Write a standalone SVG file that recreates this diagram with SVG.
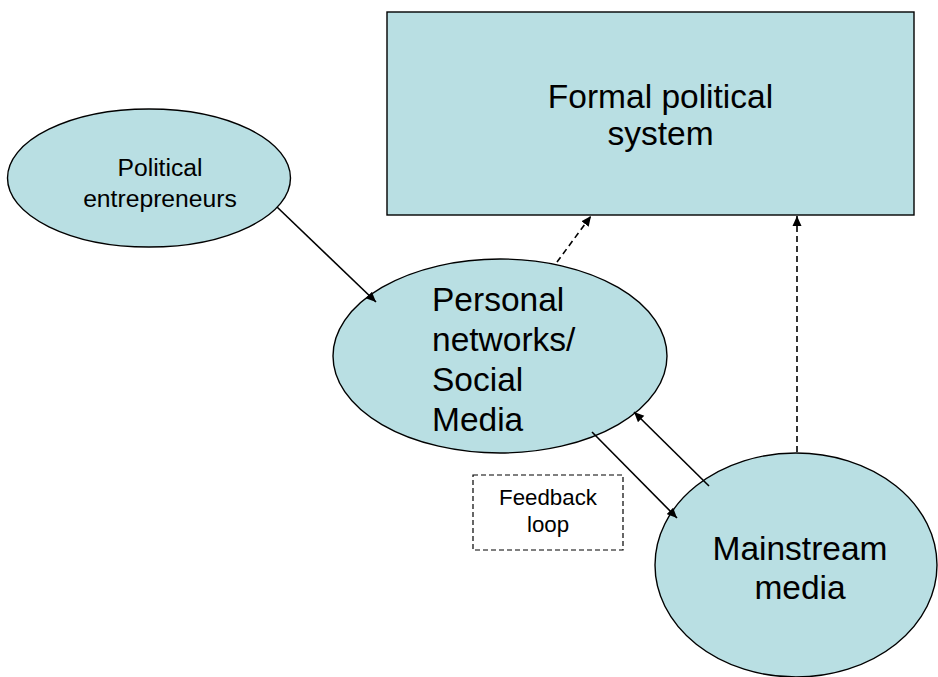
<svg xmlns="http://www.w3.org/2000/svg" width="938" height="677" viewBox="0 0 938 677">
  <style>
    .shape { fill: #b9dfe3; stroke: #000; stroke-width: 1.4; }
    .lbl { font-family: "Liberation Sans", Arial, sans-serif; fill: #000; }
    .solid { stroke: #000; stroke-width: 1.6; fill: none; }
    .dash { stroke: #000; stroke-width: 1.6; fill: none; stroke-dasharray: 6 4; }
  </style>
  <defs>
    <marker id="arr" viewBox="0 0 10 10" refX="10" refY="5" markerWidth="10" markerHeight="10" markerUnits="userSpaceOnUse" orient="auto">
      <path d="M0,0.5 L10,5 L0,9.5 Z" fill="#000"/>
    </marker>
  </defs>
  <rect width="938" height="677" fill="#fff"/>

  <g id="formal-political-system">
    <rect class="shape" x="387" y="12" width="527" height="203"/>
    <text class="lbl" font-size="33.5" text-anchor="middle" x="660.5" y="108">Formal political</text>
    <text class="lbl" font-size="33.5" text-anchor="middle" x="660.5" y="145">system</text>
  </g>

  <g id="political-entrepreneurs">
    <ellipse class="shape" cx="149" cy="178" rx="141.5" ry="69"/>
    <text class="lbl" font-size="24.7" text-anchor="middle" x="160" y="176">Political</text>
    <text class="lbl" font-size="24.7" text-anchor="middle" x="160" y="207">entrepreneurs</text>
  </g>

  <g id="personal-networks">
    <ellipse class="shape" cx="500" cy="356" rx="167" ry="97"/>
    <text class="lbl" font-size="33.5" x="432" y="311">Personal</text>
    <text class="lbl" font-size="33.5" x="432" y="351">networks/</text>
    <text class="lbl" font-size="33.5" x="432" y="391">Social</text>
    <text class="lbl" font-size="33.5" x="432" y="431">Media</text>
  </g>

  <g id="mainstream-media">
    <ellipse class="shape" cx="796" cy="565" rx="141" ry="112"/>
    <text class="lbl" font-size="33.5" text-anchor="middle" x="800" y="560">Mainstream</text>
    <text class="lbl" font-size="33.5" text-anchor="middle" x="800" y="599">media</text>
  </g>

  <g id="feedback-loop">
    <rect x="473" y="475" width="150" height="75" fill="none" stroke="#000" stroke-width="1.2" stroke-dasharray="5 3"/>
    <text class="lbl" font-size="22.3" text-anchor="middle" x="548" y="505">Feedback</text>
    <text class="lbl" font-size="22.3" text-anchor="middle" x="548" y="532">loop</text>
  </g>

  <g id="connectors">
    <line class="solid" x1="277" y1="207" x2="376" y2="302" marker-end="url(#arr)"/>
    <line class="dash" x1="557" y1="262" x2="591" y2="216" marker-end="url(#arr)"/>
    <line class="dash" x1="797" y1="452" x2="797" y2="216" marker-end="url(#arr)"/>
    <line class="solid" x1="592" y1="432" x2="677" y2="518" marker-end="url(#arr)"/>
    <line class="solid" x1="709" y1="486" x2="634" y2="412" marker-end="url(#arr)"/>
  </g>
</svg>
